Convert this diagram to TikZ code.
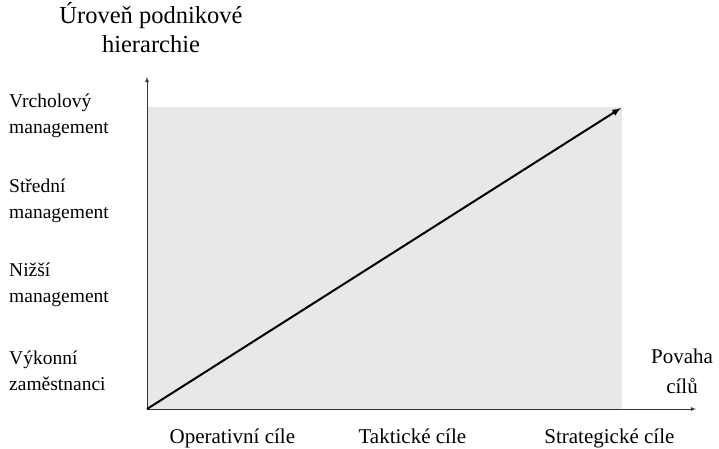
\documentclass[tikz,border=0pt]{standalone}
\usepackage{fontspec}
\setmainfont{Liberation Serif}
\tikzset{
    uroven/.style={anchor=west,align=left,inner sep=0pt,font=\fontsize{19.5}{26}\selectfont},
    povaha/.style={anchor=base,align=center,inner sep=0pt,font=\fontsize{21}{30}\selectfont},
    osa/.style={draw=black!80,line width=0.8pt,-latex}
}
\begin{document}
        \begin{tikzpicture}[x=1pt,y=-1pt]
            \useasboundingbox (0,0) rectangle (719,448);

            \fill[black!9] (147,107) rectangle (622,409);

            \coordinate (O) at (147, 409);
            \coordinate (Y) at (147, 77);
            \coordinate (X) at (696, 409);
            \coordinate (S) at (621, 108);

            \node[povaha,anchor=center,font=\fontsize{24.5}{29}\selectfont] (T) at (151, 28) { Úroveň podnikové\\ hierarchie };

            \node[uroven] (A) at (9, 116) { Vrcholový\\ management };
            \node[uroven] (B) at (9, 201) { Střední\\ management };
            \node[uroven] (C) at (9, 285) { Nižší\\ management };
            \node[uroven] (D) at (9, 371) { Výkonní\\ zaměstnanci };

            \node[povaha] (E) at (235, 443) { Operativní cíle };
            \node[povaha] (F) at (415, 443) { Taktické cíle };
            \node[povaha] (G) at (612, 443) { Strategické cíle };
            \node[povaha,anchor=center] (H) at (682, 371) { Povaha\\ cílů };

            \draw[osa] (O) to (Y);
            \draw[osa] (O) to (X);
            \draw[line width=2pt,-latex] (O) to (S);
        \end{tikzpicture}
\end{document}
